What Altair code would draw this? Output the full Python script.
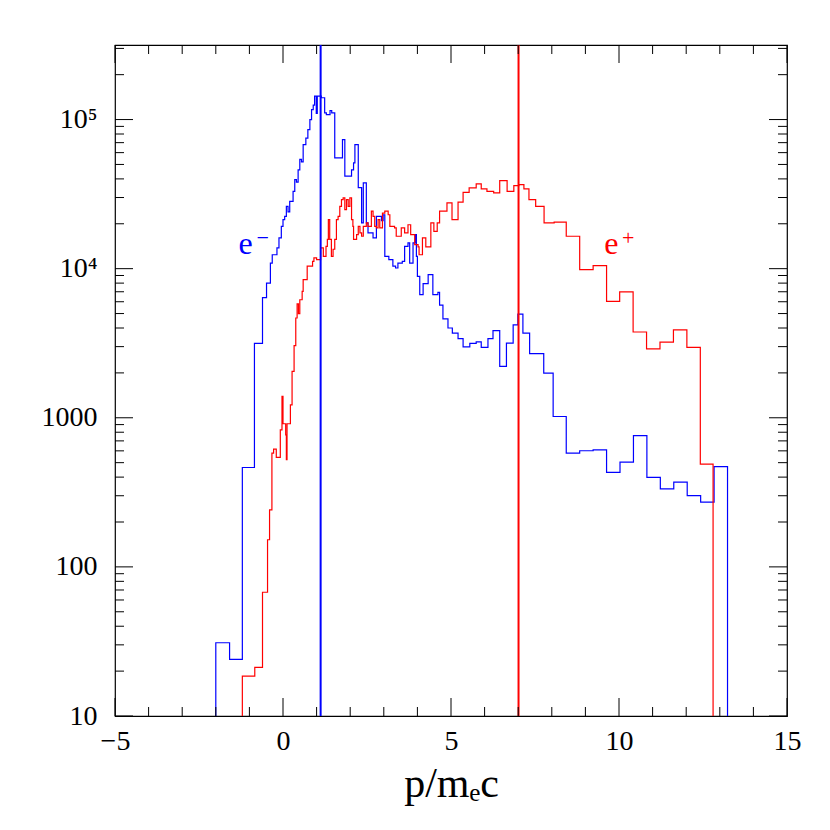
import altair as alt
import pandas as pd

# ---------------- data ----------------
# e- (blue) histogram: bin left edges, counts; last edge closes the final bin
e_minus_edges = [-2.00, -1.59, -1.21, -0.85, -0.61, -0.49, -0.375, -0.32, -0.18, -0.12,
                 -0.05, 0.00, 0.05, 0.10, 0.15, 0.20, 0.30, 0.35, 0.40, 0.45,
                 0.50, 0.55, 0.60, 0.68, 0.74, 0.80, 0.85, 0.90, 0.94, 0.99,
                 1.02, 1.14, 1.24, 1.29, 1.40, 1.45, 1.54, 1.77, 1.84, 2.04,
                 2.10, 2.14, 2.24, 2.34, 2.39, 2.48, 2.53, 2.68, 2.78, 2.93,
                 2.98, 3.03, 3.15, 3.27, 3.35, 3.42, 3.55, 3.62, 3.72, 3.77,
                 3.87, 3.94, 3.97, 4.00, 4.07, 4.17, 4.32, 4.46, 4.61, 4.66,
                 4.76, 4.91, 5.04, 5.21, 5.36, 5.56, 5.75, 5.90, 6.10, 6.25,
                 6.45, 6.65, 6.85, 6.99, 7.14, 7.34, 7.76, 8.04, 8.43, 8.83,
                 9.23, 9.63, 10.03, 10.43, 10.83, 11.23, 11.63, 12.03, 12.43, 12.83,
                 13.23]
e_minus_counts = [31, 24, 464, 3155, 6400, 8000, 10900, 12400, 13800, 16100,
                  19200, 21300, 22400, 26200, 24000, 28300, 33000, 39600, 38000, 46000,
                  54000, 52000, 68000, 75000, 85700, 100000, 116700, 125000, 143500, 110000,
                  143500, 140000, 111000, 108000, 115000, 111000, 55300, 73400, 41700, 46000,
                  51200, 68000, 35000, 20300, 37600, 20300, 17400, 16100, 22400, 21000,
                  23000, 12100, 11500, 10400, 10100, 10900, 11200, 14100, 14900, 10900,
                  14900, 16900, 12100, 8870, 6700, 7930, 9120, 6700, 6940, 5700,
                  4600, 4000, 3700, 3400, 2990, 3150, 3230, 2970, 3390, 3840,
                  2210, 3170, 4200, 4960, 3700, 2690, 1995, 1020, 580, 601,
                  610, 431, 504, 760, 398, 334, 370, 301, 272, 471]

# e+ (red) histogram
e_plus_edges = [-1.21, -0.84, -0.61, -0.46, -0.40, -0.33, -0.28, -0.20, -0.08, -0.03,
                0.00, 0.08, 0.10, 0.12, 0.22, 0.27, 0.33, 0.38, 0.42, 0.46,
                0.50, 0.57, 0.60, 0.72, 0.88, 0.92, 1.00, 1.12, 1.20, 1.28,
                1.32, 1.35, 1.39, 1.44, 1.49, 1.54, 1.59, 1.64, 1.69, 1.74,
                1.79, 1.84, 1.89, 1.94, 1.99, 2.04, 2.08, 2.10, 2.19, 2.24,
                2.29, 2.34, 2.39, 2.48, 2.53, 2.63, 2.68, 2.73, 2.78, 2.83,
                2.88, 2.96, 3.03, 3.13, 3.18, 3.32, 3.37, 3.52, 3.62, 3.72,
                3.80, 3.92, 4.02, 4.05, 4.15, 4.25, 4.40, 4.49, 4.59, 4.66,
                4.88, 5.03, 5.21, 5.36, 5.54, 5.75, 5.90, 6.07, 6.27, 6.45,
                6.67, 6.87, 7.02, 7.17, 7.32, 7.52, 7.77, 8.07, 8.43, 8.83,
                9.23, 9.63, 10.02, 10.42, 10.82, 11.22, 11.62, 12.02, 12.42, 12.80]
e_plus_counts = [18.5, 21.2, 67.6, 152, 241, 580, 617, 542, 830, 1390,
                 912, 769, 523, 912, 1220, 2050, 3050, 4670, 5800, 5000,
                 6190, 7050, 8440, 10400, 11200, 11800, 11500, 13800, 12100, 14100,
                 15700, 21300, 15700, 12100, 13500, 15700, 21300, 22400, 26200, 29000,
                 29800, 24900, 29000, 26200, 29800, 21300, 19200, 15700, 16900, 19200,
                 17400, 16500, 19200, 20300, 19200, 24300, 22400, 19200, 18800, 21300,
                 18800, 23600, 24300, 23000, 19200, 18800, 16500, 18800, 17400, 19700,
                 16900, 14500, 14000, 12400, 16100, 14000, 20300, 17800, 20300, 24300,
                 27600, 21300, 27900, 32500, 34800, 37000, 34300, 33000, 32200, 38900,
                 33000, 36100, 36600, 34300, 29000, 26200, 20300, 20500, 16500, 9840,
                 10470, 6040, 6980, 3760, 2900, 3220, 3890, 2970, 489]

series_names = ["e−", "e+"]
series_colors = ["#0000ff", "#ff0000"]
label_base = ["e", "e"]
label_sup = ["−", "+"]
marker_x = [1.12, 7.01]            # vertical lines
label_x = [-1.11, 9.77]            # annotation positions ("e" centre)
label_y = [12600, 12600]           # annotation baseline

x_major = [-5, 0, 5, 10, 15]
x_minor = [v for v in range(-5, 16) if v not in x_major]
y_major = [10, 100, 1000, 10000, 100000]
y_major_labels = ["10", "100", "1000", "10⁴", "10⁵"]
y_minor = [k * 10 ** d for d in range(1, 6) for k in range(2, 10) if k * 10 ** d <= 316000]

# ---------------- build tables ----------------
FLOOR = 1.0
rows = []
for name, edges, counts in [(series_names[0], e_minus_edges, e_minus_counts),
                            (series_names[1], e_plus_edges, e_plus_counts)]:
    seq = [(edges[0], FLOOR)]
    seq += [(edges[i], counts[i]) for i in range(len(counts))]
    seq += [(edges[-1], counts[-1]), (edges[-1], FLOOR)]
    for i, (xv, yv) in enumerate(seq):
        rows.append({"series": name, "x": xv, "y": yv, "i": i})
hist_df = pd.DataFrame(rows)

W, H = 672, 671
FONT = "Liberation Serif"
xs = alt.Scale(domain=[-5, 15], nice=False, zero=False)
ys = alt.Scale(type="log", domain=[10, 316228], nice=False)
cscale = alt.Scale(domain=series_names, range=series_colors)

label_map = " : ".join(
    f"datum.value == {v} ? '{t}'" for v, t in zip(y_major, y_major_labels)
) + " : ''"

XAXIS = alt.Axis(
    values=x_major, ticks=False, domain=False, grid=False, labelFont=FONT,
    labelFontSize=28, labelPadding=11, labelColor="black", labelFlush=False,
    labelExpr="replace(format(datum.value, 'd'), '-', '−')",
    title="p/mₑc", titleFont=FONT, titleFontSize=42, titleFontWeight="normal",
    titleColor="black", titlePadding=8)
YAXIS = alt.Axis(
    values=y_major, ticks=False, domain=False, grid=False, labelFont=FONT,
    labelFontSize=28, labelPadding=18, labelColor="black", labelExpr=label_map,
    title=None)

def X(field="x"):
    return alt.X(f"{field}:Q", scale=xs, axis=XAXIS)

def Y(field="y"):
    return alt.Y(f"{field}:Q", scale=ys, axis=YAXIS)

hist = alt.Chart(hist_df).mark_line(interpolate="step-after", strokeWidth=1.2, clip=True).encode(
    x=X(), y=Y(),
    color=alt.Color("series:N", scale=cscale, legend=None),
    order=alt.Order("i:Q"),
)

markers = alt.Chart(pd.DataFrame({"x": marker_x, "series": series_names})).mark_rule(strokeWidth=2).encode(
    x=X(), y=alt.value(0), y2=alt.value(H),
    color=alt.Color("series:N", scale=cscale, legend=None),
)

ann_df = pd.DataFrame({"x": label_x, "y": label_y, "series": series_names,
                       "base": label_base, "sup": label_sup})
ann_base = alt.Chart(ann_df).mark_text(
    font=FONT, fontSize=32, align="center", baseline="alphabetic").encode(
    x=X(), y=Y(), text="base:N",
    color=alt.Color("series:N", scale=cscale, legend=None),
)
ann_sup = alt.Chart(ann_df).mark_text(
    font=FONT, fontSize=22, align="center", baseline="middle", dx=17, dy=-16).encode(
    x=X(), y=Y(), text="sup:N",
    color=alt.Color("series:N", scale=cscale, legend=None),
)

def xticks(vals, length):
    df = pd.DataFrame({"x": vals})
    base = alt.Chart(df).mark_rule(color="black", strokeWidth=1)
    b = base.encode(x=X(), y=alt.value(H), y2=alt.value(H - length))
    t = base.encode(x=X(), y=alt.value(0), y2=alt.value(length))
    return [b, t]

def yticks(vals, length):
    df = pd.DataFrame({"y": vals})
    base = alt.Chart(df).mark_rule(color="black", strokeWidth=1)
    l = base.encode(y=Y(), x=alt.value(0), x2=alt.value(length))
    r = base.encode(y=Y(), x=alt.value(W), x2=alt.value(W - length))
    return [l, r]

tick_layers = xticks(x_minor, 9) + xticks(x_major, 18) + yticks(y_minor, 9) + yticks(y_major, 18)

chart = alt.layer(hist, markers, ann_base, ann_sup, *tick_layers).properties(
    width=W, height=H,
    autosize=alt.AutoSizeParams(type="none"),
    padding={"left": 107, "top": 37, "right": 30, "bottom": 100},
    background="white",
).configure_view(stroke="black", strokeWidth=1.2)

chart.save("out.html", embed_options={"renderer": "svg", "actions": False})
